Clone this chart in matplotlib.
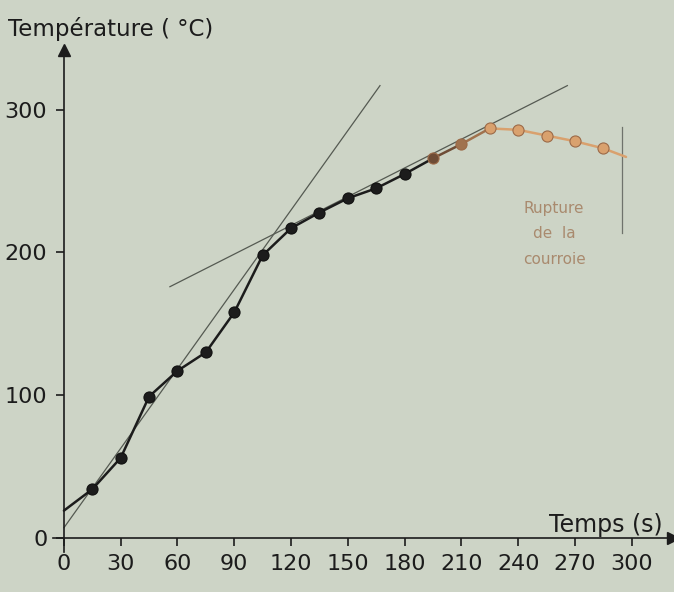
import matplotlib
matplotlib.use("Agg")
import matplotlib.pyplot as plt

# Measured points (time in s, temperature in degC)
temps_s = [15, 30, 45, 60, 75, 90, 105, 120, 135, 150, 165, 180,
           195, 210, 225, 240, 255, 270, 285]
temperature = [34, 56, 99, 117, 130, 158, 198, 217, 228, 238, 245, 255,
               266, 276, 287, 286, 282, 278, 273]

# Curve start and end (curve goes a bit past the last point)
curve_start = (0, 19)
curve_end = (297, 267)

# The two tangent lines
tangent1_t = [0, 167]
tangent1_T = [7, 317]
tangent2_t = [56, 266]
tangent2_T = [176, 317]

# Belt rupture marker
rupture_t = 295
rupture_T = [214, 288]

x_ticks = [0, 30, 60, 90, 120, 150, 180, 210, 240, 270, 300]
y_ticks = [0, 100, 200, 300]

bg = '#cdd4c6'
ink = '#1c1c1c'
orange = '#d9a16e'

# colour of each point: black first, then going to orange after 180 s
point_colors = []
for t in temps_s:
    if t <= 180:
        point_colors.append(ink)
    elif t == 195:
        point_colors.append('#6e4c36')
    elif t == 210:
        point_colors.append('#a0724e')
    else:
        point_colors.append(orange)

fig = plt.figure(figsize=(6.74, 5.92), dpi=100, facecolor=bg)
ax = fig.add_axes([0.078, 0.0676, 0.921, 0.848], facecolor=bg)
ax.set_xlim(-6, 322)
ax.set_ylim(-10, 342)

# tangents
ax.plot(tangent1_t, tangent1_T, color='#555a52', lw=0.9, zorder=2)
ax.plot(tangent2_t, tangent2_T, color='#555a52', lw=0.9, zorder=2)

# curve, one segment at a time so the colour can change
xs = [curve_start[0]] + temps_s + [curve_end[0]]
ys = [curve_start[1]] + temperature + [curve_end[1]]
seg_colors = [ink] + point_colors
for i in range(len(xs) - 1):
    ax.plot(xs[i:i + 2], ys[i:i + 2], color=seg_colors[i], lw=1.8,
            solid_capstyle='round', zorder=3)

# points
for t, T, c in zip(temps_s, temperature, point_colors):
    edge = '#111111' if c == ink else '#9c6a48'
    ax.plot(t, T, 'o', ms=8, color=c, mec=edge, mew=0.8, zorder=4)

# rupture line and text
ax.plot([rupture_t, rupture_t], rupture_T, color='#6f736c', lw=0.9)
ax.text(259, 213, 'Rupture\nde  la\ncourroie', color='#a98a6e', fontsize=11,
        ha='center', va='center', linespacing=1.85)

# axes through zero with arrows
for side in ['top', 'right']:
    ax.spines[side].set_visible(False)
ax.spines['left'].set_position(('data', 0))
ax.spines['bottom'].set_position(('data', 0))
ax.spines['left'].set_color(ink)
ax.spines['bottom'].set_color(ink)
ax.spines['left'].set_linewidth(1.2)
ax.spines['bottom'].set_linewidth(1.2)
ax.plot(322, 0, '>', color=ink, ms=8, clip_on=False)
ax.plot(0, 342, '^', color=ink, ms=8, clip_on=False)

ax.set_xticks(x_ticks)
ax.set_yticks(y_ticks)
ax.tick_params(direction='out', length=6, width=1.2, color=ink,
               labelsize=16, labelcolor=ink, pad=6)

fig.text(8 / 674, 1 - 36 / 592, 'Température ( °C)', fontsize=16.5,
         color=ink, va='baseline')
fig.text(663 / 674, 1 - 532 / 592, 'Temps (s)', fontsize=17,
         color=ink, va='baseline', ha='right')

plt.savefig('out.png', dpi=100, facecolor=bg)
